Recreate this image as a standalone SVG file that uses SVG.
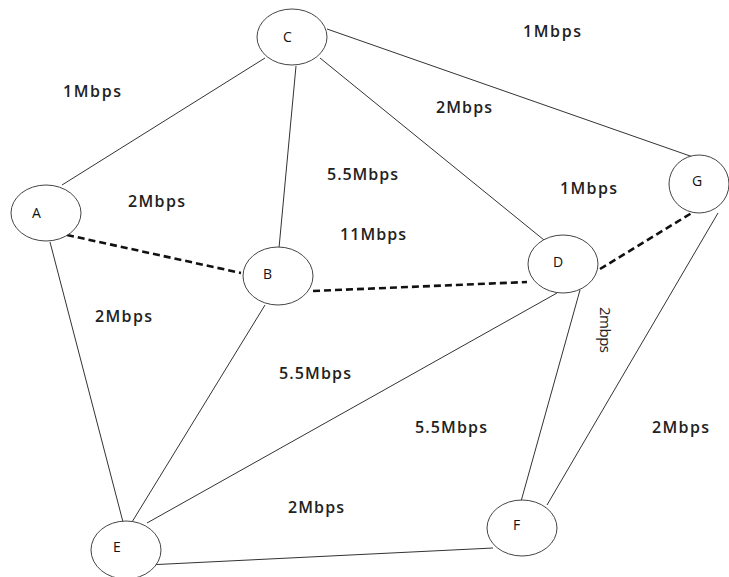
<svg xmlns="http://www.w3.org/2000/svg" width="729" height="577" viewBox="0 0 729 577">
<style>
.n{fill:#fff;stroke:#444;stroke-width:1}
.nl{font-family:"Open Sans","Liberation Sans",sans-serif;font-size:14px;fill:#111}
.e{stroke:#333;stroke-width:1;fill:none}
.d{stroke:#111;stroke-width:2.6;stroke-dasharray:7 4;fill:none}
.l{font-family:"Open Sans","Liberation Sans",sans-serif;font-size:16px;font-weight:600;fill:#222}
</style>
<rect width="729" height="577" fill="#fff"/>
<g id="connectors">
<line class="e" x1="265" y1="58" x2="62" y2="185"/>
<line class="e" x1="296" y1="66" x2="279" y2="248"/>
<line class="e" x1="320" y1="58" x2="544" y2="240"/>
<line class="e" x1="327" y1="29" x2="693" y2="157"/>
<line class="d" x1="67" y1="235" x2="241" y2="273"/>
<line class="d" x1="313" y1="291" x2="527" y2="282"/>
<line class="d" x1="600" y1="269" x2="695" y2="211"/>
<line class="e" x1="50" y1="242" x2="123" y2="522"/>
<line class="e" x1="265" y1="305" x2="132" y2="522"/>
<line class="e" x1="557" y1="293" x2="147" y2="523"/>
<line class="e" x1="580" y1="290" x2="520" y2="505"/>
<line class="e" x1="718" y1="213" x2="547" y2="505"/>
<line class="e" x1="147" y1="565" x2="493" y2="548"/>
</g>
<g id="node-C"><ellipse class="n" cx="292" cy="37" rx="35" ry="28"/><text class="nl" x="283" y="42">C</text></g>
<g id="node-A"><ellipse class="n" cx="46" cy="213" rx="35" ry="28"/><text class="nl" x="32" y="218">A</text></g>
<g id="node-B"><ellipse class="n" cx="278" cy="276" rx="35" ry="29"/><text class="nl" x="263" y="279">B</text></g>
<g id="node-D"><ellipse class="n" cx="563" cy="264" rx="35" ry="29"/><text class="nl" x="553" y="267">D</text></g>
<g id="node-G"><ellipse class="n" cx="699" cy="184" rx="30" ry="29"/><text class="nl" x="692" y="186">G</text></g>
<g id="node-E"><ellipse class="n" cx="126" cy="550" rx="35" ry="29"/><text class="nl" x="113" y="552">E</text></g>
<g id="node-F"><ellipse class="n" cx="522" cy="528" rx="35" ry="28"/><text class="nl" x="513" y="530">F</text></g>
<g id="labels">
<text class="l" x="63" y="97" textLength="58">1Mbps</text>
<text class="l" x="128" y="207" textLength="57">2Mbps</text>
<text class="l" x="327" y="180" textLength="71">5.5Mbps</text>
<text class="l" x="340" y="240" textLength="66">11Mbps</text>
<text class="l" x="523" y="37" textLength="58">1Mbps</text>
<text class="l" x="436" y="113" textLength="56">2Mbps</text>
<text class="l" x="560" y="194" textLength="57">1Mbps</text>
<text class="l" x="95" y="322" textLength="57">2Mbps</text>
<text class="l" x="279" y="379" textLength="72">5.5Mbps</text>
<text class="l" x="288" y="513" textLength="56">2Mbps</text>
<text class="l" x="415" y="433" textLength="72">5.5Mbps</text>
<text class="l" x="652" y="433" textLength="57">2Mbps</text>
<text font-family="'Open Sans','Liberation Sans',sans-serif" font-size="15" fill="#222" transform="translate(600,307) rotate(90)" textLength="46">2mbps</text>
</g>
</svg>
